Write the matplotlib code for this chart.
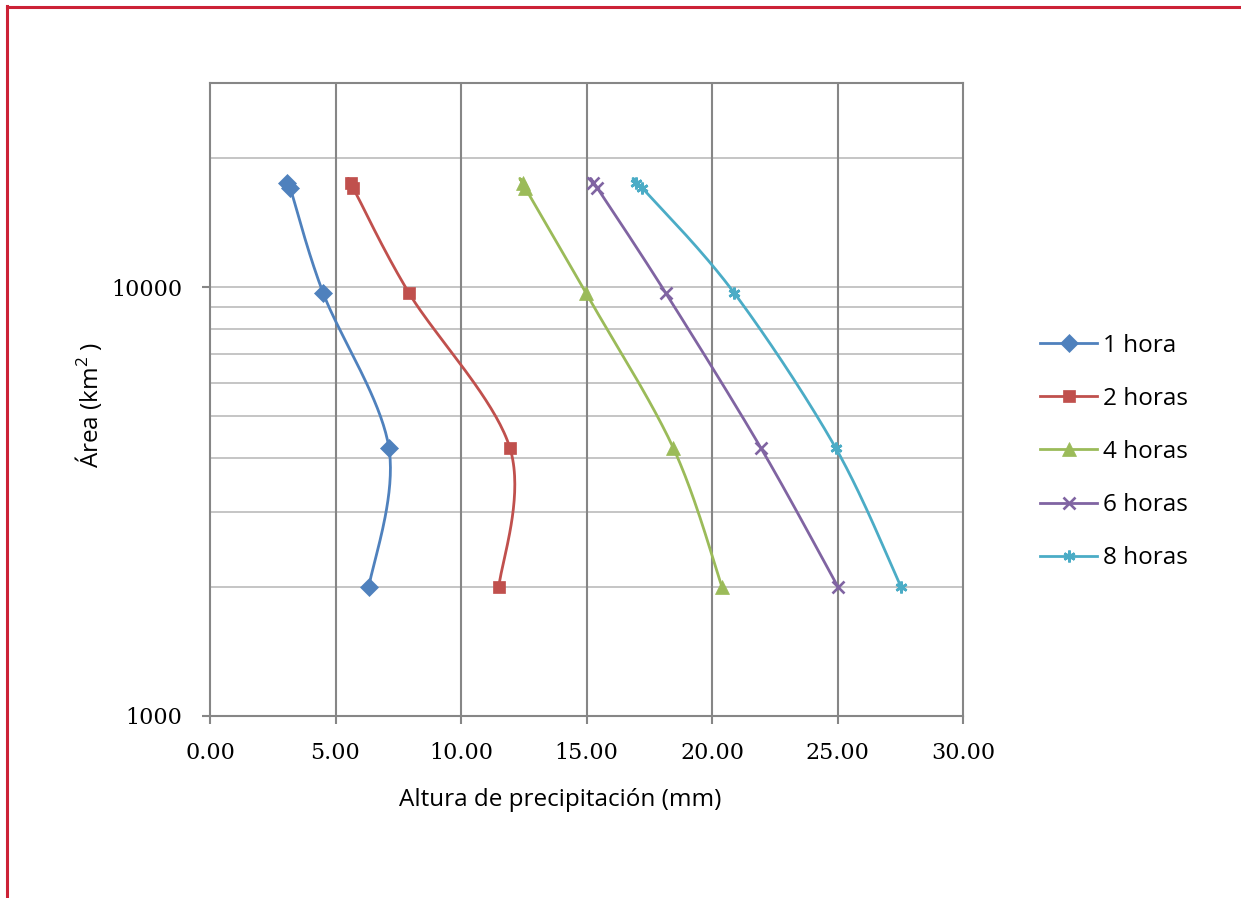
import numpy as np
import matplotlib
matplotlib.use("Agg")
import matplotlib.pyplot as plt
from matplotlib.lines import Line2D

plt.rcParams['mathtext.fontset'] = 'custom'
plt.rcParams['mathtext.rm'] = 'Open Sans'
plt.rcParams['mathtext.it'] = 'Open Sans'

# ---- data ----
series_names = ["1 hora", "2 horas", "4 horas", "6 horas", "8 horas"]
area_km2 = [17500, 17100, 9700, 4220, 2000]
precip_1h = [3.07, 3.19, 4.51, 7.13, 6.33]
precip_2h = [5.62, 5.70, 7.93, 11.95, 11.51]
precip_4h = [12.47, 12.55, 14.98, 18.46, 20.40]
precip_6h = [15.26, 15.42, 18.16, 21.95, 25.02]
precip_8h = [16.97, 17.21, 20.89, 24.93, 27.53]
x_ticks = [0, 5, 10, 15, 20, 25, 30]
x_ticklabels = ["0.00", "5.00", "10.00", "15.00", "20.00", "25.00", "30.00"]
y_ticks = [1000, 10000]
y_ticklabels = ["1000", "10000"]
y_grid = [2000, 3000, 4000, 5000, 6000, 7000, 8000, 9000, 10000, 20000]

all_series = [precip_1h, precip_2h, precip_4h, precip_6h, precip_8h]
colors = ["#4F81BD", "#C0504D", "#9BBB59", "#8064A2", "#4BACC6"]
markers = ["D", "s", "^", "x", (6, 2, 0)]
msizes = [9.5, 8.5, 10.5, 8.5, 8.5]

W, H = 1241, 898
fig = plt.figure(figsize=(W / 100, H / 100), dpi=100)
ax = fig.add_axes([210 / W, 1 - 716 / H, (963 - 210) / W, (716 - 83) / H])

def smooth(xs, ys, n=40):
    # Excel-like smoothed line (Catmull-Rom Bezier) in (x, log10 y) space
    P = np.column_stack([np.asarray(xs, float), np.log10(np.asarray(ys, float))])
    m = len(P)
    out = []
    for i in range(m - 1):
        p0 = P[max(i - 1, 0)]
        p1 = P[i]
        p2 = P[i + 1]
        p3 = P[min(i + 2, m - 1)]
        c1 = p1 + (p2 - p0) / 6.0
        c2 = p2 - (p3 - p1) / 6.0
        t = np.linspace(0, 1, n)[:, None]
        seg = ((1 - t) ** 3) * p1 + 3 * ((1 - t) ** 2) * t * c1 + 3 * (1 - t) * t ** 2 * c2 + t ** 3 * p2
        out.append(seg if i == 0 else seg[1:])
    out = np.vstack(out)
    return out[:, 0], 10 ** out[:, 1]

ax.set_yscale("log")
ax.set_xlim(0, 30)
ax.set_ylim(1000, 30000)

for yv in y_grid:
    ax.axhline(yv, color="#c0c0c0", lw=1.3, zorder=1)
for xv in x_ticks[1:-1]:
    ax.axvline(xv, color="#868686", lw=1.5, zorder=1)

handles = []
for name, xs, c, mk, ms in zip(series_names, all_series, colors, markers, msizes):
    sx, sy = smooth(xs, area_km2)
    ax.plot(sx, sy, color=c, lw=2.0, zorder=3, solid_capstyle="round")
    mew = 1.9 if mk in ("x",) or isinstance(mk, tuple) else 0.5
    ax.plot(xs, area_km2, linestyle="none", marker=mk, ms=ms, color=c,
            markeredgecolor=c, mew=mew, zorder=4)
    handles.append(Line2D([0], [0], color=c, lw=2.0, marker=mk, ms=ms,
                          markeredgecolor=c, mew=mew, label=name))

for s in ax.spines.values():
    s.set_color("#868686")
    s.set_linewidth(1.5)

ax.set_xticks(x_ticks)
ax.set_xticklabels(x_ticklabels, family="DejaVu Serif", fontsize=16)
ax.set_yticks(y_ticks)
ax.set_yticklabels(y_ticklabels, family="DejaVu Serif", fontsize=16)
ax.yaxis.set_minor_locator(matplotlib.ticker.NullLocator())
ax.tick_params(axis="both", which="major", direction="out", length=6,
               width=1.5, color="#868686")
ax.tick_params(axis="y", pad=14)
ax.tick_params(axis="x", pad=13)

fig.text(560 / W, 1 - 800 / H, "Altura de precipitación (mm)", family="Open Sans",
         fontsize=17.5, ha="center", va="center")
fig.text(88 / W, 1 - 405 / H, r"Área (km$^{2}$ )", family="Open Sans",
         fontsize=17.5, ha="center", va="center", rotation=90)

leg = fig.legend(handles=handles, loc="center left",
                 bbox_to_anchor=(1040 / W, 1 - 452 / H),
                 frameon=False, borderpad=0, borderaxespad=0,
                 handlelength=2.35, handletextpad=0.25, labelspacing=1.2,
                 prop={"family": "Open Sans", "size": 17.5})

# red page frame
red = "#cc2236"
fig.add_artist(Line2D([7 / W, 1], [1 - 6.5 / H, 1 - 6.5 / H], transform=fig.transFigure,
                      color=red, lw=2.2))
fig.add_artist(Line2D([7 / W, 7 / W], [1 - 6 / H, 0], transform=fig.transFigure,
                      color=red, lw=2.2))

fig.savefig("out.png", dpi=100)
